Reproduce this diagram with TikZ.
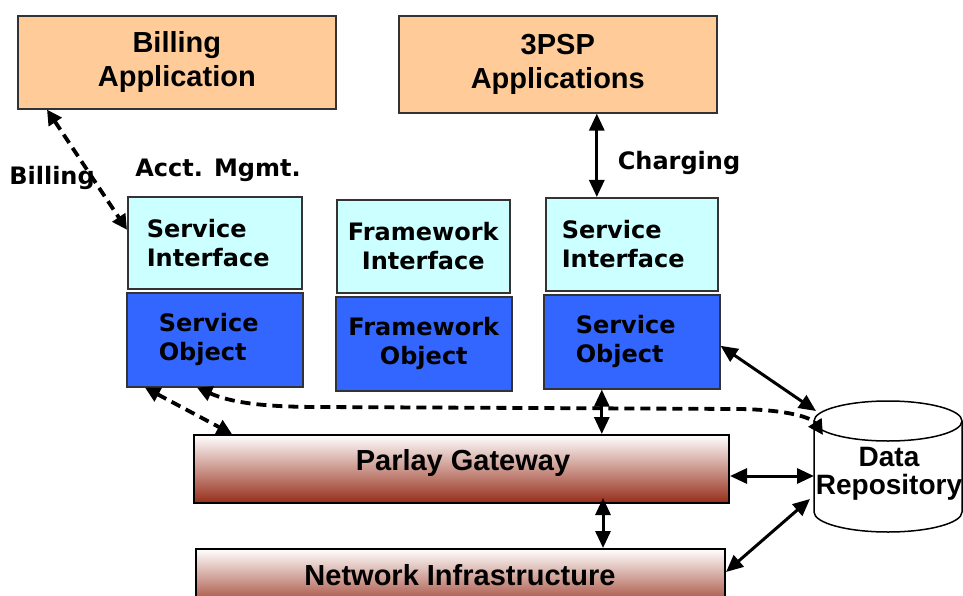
\documentclass[tikz,border=0pt]{standalone}
\usepackage{fontspec}
\usetikzlibrary{arrows.meta,calc}
\newfontfamily\arialf{Liberation Sans}
\newfontfamily\verdf{DejaVu Sans}
\definecolor{peach}{HTML}{FFCC99}
\definecolor{ltcyan}{HTML}{CCFFFF}
\definecolor{objblue}{HTML}{3366FF}
\definecolor{rust}{RGB}{150,45,25}
\definecolor{edgec}{HTML}{333333}
\begin{document}
\begin{tikzpicture}[x=1pt,y=-1pt,
  box/.style={draw=edgec, line width=1.6pt, anchor=north west, inner sep=0pt, align=center},
  appbox/.style={box, fill=peach, font=\arialf\bfseries\fontsize{29}{34}\selectfont},
  ifbox/.style={box, fill=ltcyan, font=\verdf\bfseries\fontsize{24}{29}\selectfont},
  objbox/.style={box, fill=objblue, font=\verdf\bfseries\fontsize{24}{29}\selectfont},
  gwbox/.style={box, draw=black, line width=2pt, top color=white, bottom color=rust},
  gwtext/.style={font=\arialf\bfseries\fontsize{29}{34}\selectfont, inner sep=0pt},
  lbl/.style={font=\verdf\bfseries\fontsize{24}{29}\selectfont, inner sep=0pt},
  solidarr/.style={line width=3pt, {Triangle[length=17pt,width=15pt]}-{Triangle[length=17pt,width=15pt]}},
  dasharr/.style={line width=3.8pt, dash pattern=on 10pt off 6pt, {Triangle[length=15pt,width=15pt]}-{Triangle[length=15pt,width=15pt]}}
]
\useasboundingbox (0,0) rectangle (963,596);

% application boxes
\node[appbox, minimum width=318pt, minimum height=93pt] (bill) at (17,15) {Billing\\Application};
\node[appbox, minimum width=318pt, minimum height=97pt] (psp) at (398,15) {3PSP\\Applications};

% interfaces and objects
\node[ifbox, text width=136pt, inner xsep=19pt, align=left, minimum height=92pt] (si1) at (127,196) {Service\\Interface};
\node[objbox, text width=112pt, inner xsep=32pt, align=left, minimum height=94pt] (so1) at (126,292) {Service\\Object};
\node[ifbox, minimum width=173pt, minimum height=93pt] (fi) at (336,199) {Framework\\Interface};
\node[objbox, minimum width=176pt, minimum height=94pt] (fo) at (335,296) {Framework\\Object};
\node[ifbox, text width=140pt, inner xsep=16pt, align=left, minimum height=93pt] (si2) at (545,197) {Service\\Interface};
\node[objbox, text width=112pt, inner xsep=32pt, align=left, minimum height=94pt] (so2) at (543,294) {Service\\Object};

% gateway and network
\node[gwbox, minimum width=535pt, minimum height=68pt] (pg) at (193,434) {};
\node[gwtext] (pgtext) at (463,463) {Parlay Gateway};
\node[gwbox, minimum width=529pt, minimum height=64pt] (ni) at (195,548) {};
\node[gwtext] (nitext) at (460,575) {Network Infrastructure};

% data repository cylinder
\node[anchor=north west, minimum width=148pt, minimum height=131pt, inner sep=0pt] (dr) at (814,401) {};
\filldraw[fill=white, draw=black, line width=1.5pt]
  (814,421) -- (814,512) arc[start angle=180, end angle=0, x radius=74, y radius=20] -- (962,421);
\draw[fill=white, line width=1.5pt] (888,421) ellipse [x radius=74, y radius=20];
\node[gwtext, align=center, font=\arialf\bfseries\fontsize{28}{28}\selectfont] (drtext) at (889,474) {Data\\Repository};

% labels
\node[lbl] (lbilling) at (52,178) {Billing};
\node[lbl] (lacct) at (218,170) {Acct. Mgmt.};
\node[lbl] (lcharg) at (679,163) {Charging};

% coordinates
\coordinate (drA) at (816,411);
\coordinate (drC) at (810,499);
\coordinate (drD) at (823,435);
\coordinate (pgE) at ([yshift=-7pt]pg.east);
\coordinate (so2b) at ([xshift=-30pt]so2.south);
\coordinate (pgB) at ([xshift=141.5pt,yshift=6pt]pg.south);

% solid connectors
\draw[solidarr] ([xshift=39pt]psp.south) -- ([xshift=-35pt]si2.north);
\draw[solidarr] ([yshift=-4pt]so2.east) -- (drA);
\draw[solidarr] (so2b) -- (so2b |- pg.north);
\draw[solidarr] (pgE) -- (pgE -| dr.west);
\draw[solidarr] (pgB) -- (pgB |- ni.north);
\draw[solidarr] ([yshift=9pt]ni.east) -- (drC);

% dashed connectors
\draw[dasharr] ([xshift=30pt]bill.south west) -- ([yshift=13pt]si1.west);
\draw[dasharr] ([xshift=19pt]so1.south west) -- ([xshift=39pt]pg.north west);
\draw[dasharr] ([xshift=71pt]so1.south west) .. controls (230,402) and (260,407) .. (320,407)
  -- (740,409) .. controls (790,410) and (812,418) .. (drD);
\end{tikzpicture}
\end{document}
